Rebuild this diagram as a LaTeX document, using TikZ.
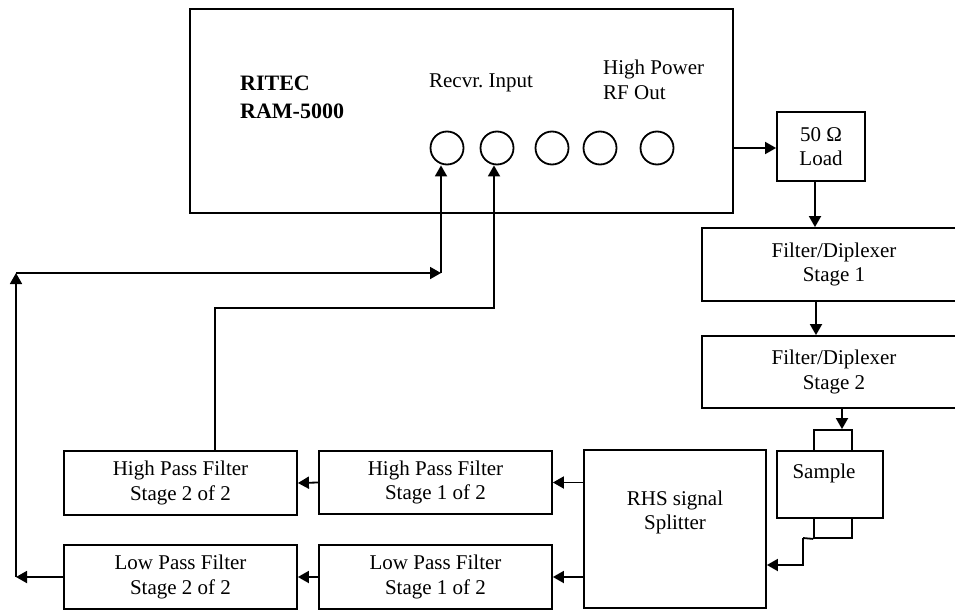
\documentclass[tikz,border=0pt]{standalone}
\usepackage{fontspec}
\setmainfont{Liberation Serif}
\usetikzlibrary{arrows.meta}
\frenchspacing
\begin{document}
\begin{tikzpicture}[x=1pt,y=-1pt]
\tikzset{
 box/.style={draw, line width=1.8pt, inner sep=0pt, align=center, font=\fontsize{21}{24.5}\selectfont},
 arr/.style={line width=1.8pt, -{Triangle[length=11pt,width=12pt]}},
 ln/.style={line width=1.8pt},
 port/.style={draw, circle, line width=1.8pt, minimum size=33pt, inner sep=0pt},
 txt/.style={inner sep=0pt, align=center, font=\fontsize{21}{24.5}\selectfont}
}
\useasboundingbox (0,0) rectangle (955,610);
% main unit
\node[box, minimum width=543pt, minimum height=204pt] (main) at (461.5,111) {};
\node[txt, font=\bfseries\fontsize{22}{28}\selectfont, anchor=west, align=left] (title) at (240,97) {RITEC\\RAM-5000};
\node[txt] (recv) at (481,83) {Recvr.\ Input};
\node[txt, anchor=west, align=left] (hpout) at (603,80) {High Power\\RF Out};
\node[port] (c1) at (447,148) {};
\node[port] (c2) at (497,148) {};
\node[port] (c3) at (552,148) {};
\node[port] (c4) at (600,148) {};
\node[port] (c5) at (657,148) {};
% right column
\node[box, minimum width=88pt, minimum height=69pt] (load) at (821,146.5) {50 Ω\\Load};
\node[box, minimum width=264pt, minimum height=73pt] (f1) at (834,264.5) {Filter/Diplexer\\Stage 1};
\node[box, minimum width=264pt, minimum height=72pt] (f2) at (834,372) {Filter/Diplexer\\Stage 2};
\node[box, minimum width=38pt, minimum height=21pt] (tabtop) at (833,440.5) {};
\node[box, minimum width=106pt, minimum height=67pt] (sample) at (830,484.5) {};
\node[txt] (sampletxt) at (824,473) {Sample};
\node[box, minimum width=38pt, minimum height=20pt] (tabbot) at (833,528) {};
% splitter and filters
\node[box, minimum width=182pt, minimum height=158pt] (split) at (675,529) {};
\node[txt] (splittxt) at (675,512.5) {RHS signal\\Splitter};
\node[box, minimum width=233pt, minimum height=63pt] (hp1) at (435.5,482.5) {High Pass Filter\\Stage 1 of 2};
\node[box, minimum width=233pt, minimum height=64pt] (hp2) at (180.5,483) {High Pass Filter\\Stage 2 of 2};
\node[box, minimum width=233pt, minimum height=64pt] (lp1) at (435.5,577) {Low Pass Filter\\Stage 1 of 2};
\node[box, minimum width=233pt, minimum height=64pt] (lp2) at (180.5,577) {Low Pass Filter\\Stage 2 of 2};
% connectors
\draw[arr] (main.east |- c5) -- (load.west |- c5);
\draw[arr] ([xshift=-6pt]load.south) -- ([xshift=-6pt]load.south |- f1.north);
\draw[arr] ([xshift=-18pt]f1.south) -- ([xshift=-18pt]f2.north);
\draw[arr] ([xshift=8pt]f2.south) -- ([xshift=8pt]f2.south |- tabtop.north);
\coordinate (st1) at (803,538);
\coordinate (st2) at (803,565);
\draw[ln] (tabbot.south west) -- (st1);
\draw[arr] (st1) -- (st2) -- (split.east |- st2);
\draw[arr] (split.west |- hp1) -- (hp1.east);
\draw[arr] (split.west |- lp1) -- (lp1.east);
\draw[arr] (hp1.west) -- (hp2.east);
\draw[arr] (lp1.west) -- (lp2.east);
\coordinate (l1) at (16,577);
\coordinate (l2) at (16,273);
\coordinate (l3) at (441,273);
\draw[arr] (lp2.west) -- (l1);
\draw[arr] (l1) -- (l2);
\draw[arr] (l2) -- (l3);
\draw[arr] (l3) -- (c1.south -| l3);
\coordinate (h1) at (215,308);
\coordinate (h2) at (494,308);
\draw[arr] (hp2.north -| h1) -- (h1) -- (h2) -- (h2 |- c2.south);
\end{tikzpicture}
\end{document}
